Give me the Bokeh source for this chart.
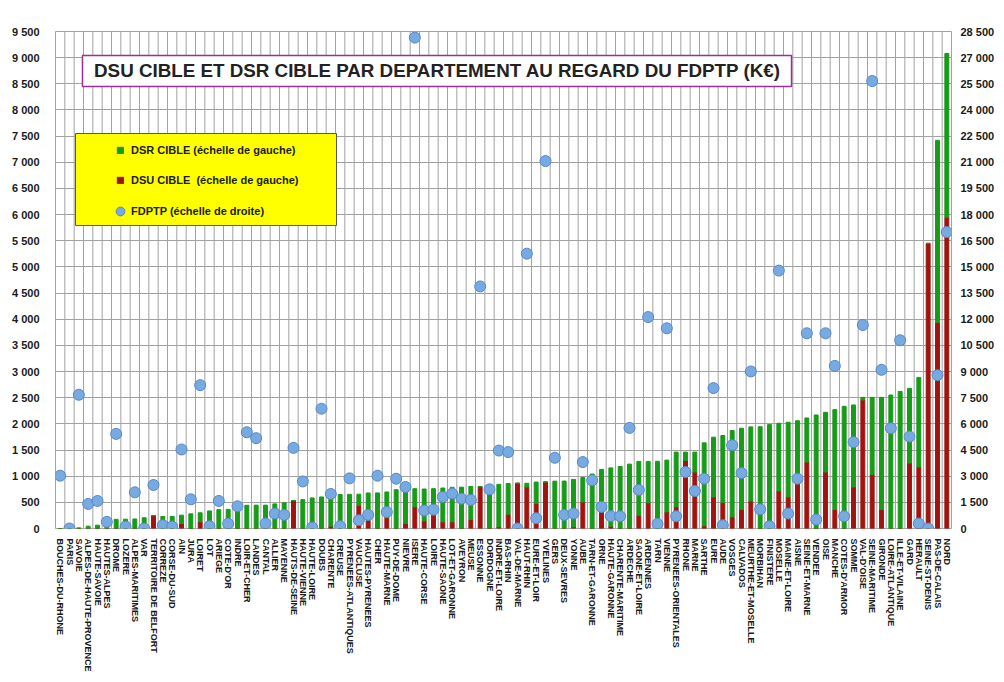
from bokeh.plotting import figure
from bokeh.models import (FactorRange, Range1d, LinearAxis, FixedTicker, Legend, LegendItem,
                          BoxAnnotation, Label, ColumnDataSource)
from bokeh.transform import dodge
from bokeh.embed import file_html
from bokeh.resources import INLINE

departements = [
    "BOUCHES-DU-RHONE", "PARIS", "SAVOIE", "ALPES-DE-HAUTE-PROVENCE", "HAUTE-SAVOIE",
    "HAUTES-ALPES", "DROME", "LOZERE", "ALPES-MARITIMES", "VAR",
    "TERRITOIRE DE BELFORT", "CORREZE", "CORSE-DU-SUD", "AIN", "JURA",
    "LOIRET", "LOT", "ARIEGE", "COTE-D'OR", "INDRE",
    "LOIR-ET-CHER", "LANDES", "CANTAL", "ALLIER", "MAYENNE",
    "HAUTS-DE-SEINE", "HAUTE-VIENNE", "HAUTE-LOIRE", "DOUBS", "CHARENTE",
    "CREUSE", "PYRENEES-ATLANTIQUES", "VAUCLUSE", "HAUTES-PYRENEES", "CHER",
    "HAUTE-MARNE", "PUY-DE-DOME", "NIEVRE", "ISERE", "HAUTE-CORSE",
    "LOIRE", "HAUTE-SAONE", "LOT-ET-GARONNE", "AVEYRON", "MEUSE",
    "ESSONNE", "DORDOGNE", "INDRE-ET-LOIRE", "BAS-RHIN", "VAL-DE-MARNE",
    "HAUT-RHIN", "EURE-ET-LOIR", "YVELINES", "GERS", "DEUX-SEVRES",
    "YONNE", "AUBE", "TARN-ET-GARONNE", "ORNE", "HAUTE-GARONNE",
    "CHARENTE-MARITIME", "ARDECHE", "SAONE-ET-LOIRE", "ARDENNES", "TARN",
    "VIENNE", "PYRENEES-ORIENTALES", "RHONE", "MARNE", "SARTHE",
    "EURE", "AUDE", "VOSGES", "CALVADOS", "MEURTHE-ET-MOSELLE",
    "MORBIHAN", "FINISTERE", "MOSELLE", "MAINE-ET-LOIRE", "AISNE",
    "SEINE-ET-MARNE", "VENDEE", "OISE", "MANCHE", "COTES-D'ARMOR",
    "SOMME", "VAL-D'OISE", "SEINE-MARITIME", "GIRONDE", "LOIRE-ATLANTIQUE",
    "ILLE-ET-VILAINE", "GARD", "HERAULT", "SEINE-ST-DENIS", "PAS-DE-CALAIS",
    "NORD",
]

# DSU CIBLE (K€, left scale)
dsu_cible = [
    0, 0, 0, 0, 0, 0, 0, 0, 0, 0,
    245, 0, 0, 95, 0, 128, 0, 0, 0, 0,
    0, 0, 0, 0, 0, 533, 0, 0, 0, 44,
    0, 0, 444, 158, 0, 203, 0, 95, 413, 145,
    254, 127, 127, 0, 171, 800, 0, 30, 273, 865,
    793, 476, 890, 0, 0, 30, 508, 0, 317, 45,
    0, 0, 254, 489, 0, 317, 413, 1301, 1079, 50,
    603, 495, 222, 368, 527, 0, 0, 717, 603, 890,
    1269, 0, 1079, 362, 0, 793, 2456, 1028, 362, 0,
    0, 1250, 1174, 5450, 3940, 5950,
]

# DSR CIBLE (K€, left scale)
dsr_cible = [
    0, 0, 12, 45, 63, 110, 175, 178, 182, 205,
    5, 230, 232, 160, 280, 172, 336, 360, 365, 365,
    444, 446, 446, 470, 490, 0, 552, 584, 603, 578,
    650, 653, 211, 521, 680, 495, 742, 660, 348, 610,
    507, 647, 660, 790, 634, 0, 825, 814, 587, 0,
    72, 412, 0, 905, 907, 909, 467, 1041, 812, 1113,
    1186, 1231, 1028, 793, 1285, 990, 1047, 159, 381, 1587,
    1142, 1282, 1650, 1549, 1415, 1945, 1986, 1295, 1428, 1170,
    844, 2170, 1142, 1910, 2335, 1568, 51, 1479, 2145, 2551,
    2621, 1428, 1714, 0, 3480, 3130,
]

# FDPTP (K€, right scale)
fdptp = [
    3030, 0, 7670, 1410, 1580, 380, 5425, 114, 2075, 0,
    2495, 190, 114, 4530, 1675, 8220, 130, 1580, 280, 1275,
    5520, 5180, 285, 857, 780, 4625, 2700, 57, 6870, 1980,
    130, 2875, 475, 780, 3030, 950, 2855, 2380, 28150, 1030,
    1085, 1810, 2000, 1713, 1640, 13880, 2245, 4470, 4380, 0,
    15760, 590, 21070, 4055, 780, 857, 3810, 2760, 1240, 710,
    700, 5770, 2210, 12125, 270, 11480, 700, 3240, 2150, 2855,
    8050, 190, 4780, 3180, 9005, 1100, 130, 14790, 857, 2855,
    11195, 514, 11195, 9325, 700, 4950, 11670, 25660, 9100, 5750,
    10795, 5270, 285, 0, 8795, 17000,
]

left_ticks = [0, 500, 1000, 1500, 2000, 2500, 3000, 3500, 4000, 4500,
              5000, 5500, 6000, 6500, 7000, 7500, 8000, 8500, 9000, 9500]
right_ticks = [0, 1500, 3000, 4500, 6000, 7500, 9000, 10500, 12000, 13500,
               15000, 16500, 18000, 19500, 21000, 22500, 24000, 25500, 27000, 28500]

GREEN = "#169C16"
RED = "#A0140F"
BLUE = "#78AAE2"
BLUE_LINE = "#5687C8"
GRID = "#A2A2A2"
TXT = "#1A1A1A"
FONT = "Liberation Sans"


def fmt(v):
    return f"{v:,}".replace(",", " ")


src = ColumnDataSource(dict(dep=departements, dsu=dsu_cible, dsr=dsr_cible, fd=fdptp))

p = figure(
    x_range=FactorRange(factors=departements, range_padding=0),
    y_range=Range1d(0, 9500),
    width=988, height=666,
    frame_width=896, frame_height=497,
    min_border_left=55, min_border_right=37, min_border_top=31, min_border_bottom=138,
    output_backend="svg", toolbar_location=None,
    background_fill_color="white", border_fill_color="white",
)
p.outline_line_color = GRID
p.outline_line_width = 1

p.xgrid.visible = False
p.ygrid.ticker = FixedTicker(ticks=left_ticks)
p.ygrid.grid_line_color = GRID
p.ygrid.grid_line_width = 1

# left axis
la = p.left[0]
la.ticker = FixedTicker(ticks=left_ticks)
la.major_label_overrides = {t: fmt(t) for t in left_ticks}
# right axis
p.extra_y_ranges = {"fd": Range1d(0, 28500)}
ra = LinearAxis(y_range_name="fd", ticker=FixedTicker(ticks=right_ticks),
                major_label_overrides={t: fmt(t) for t in right_ticks})
p.add_layout(ra, "right")

for ax, standoff in ((la, 10), (ra, 3)):
    ax.axis_line_color = None
    ax.major_tick_line_color = None
    ax.minor_tick_line_color = None
    ax.major_label_standoff = standoff
    ax.major_label_text_font = FONT
    ax.major_label_text_font_style = "bold"
    ax.major_label_text_font_size = "11px"
    ax.major_label_text_color = TXT

xa = p.below[0]
xa.axis_line_color = None
xa.major_tick_line_color = None
xa.minor_tick_line_color = None
xa.major_label_orientation = "vertical"
xa.major_label_standoff = 4
xa.major_label_text_font = FONT
xa.major_label_text_font_style = "bold"
xa.major_label_text_font_size = "9px"
xa.major_label_text_color = TXT

# vertical grid lines between categories
p.segment(x0=dodge("dep", -0.5, range=p.x_range), y0=0,
          x1=dodge("dep", -0.5, range=p.x_range), y1=9500,
          source=src, line_color=GRID, line_width=1)

bars = p.vbar_stack(["dsu", "dsr"], x="dep", width=0.42, color=[RED, GREEN], source=src)

pts = p.scatter(x="dep", y="fd", y_range_name="fd", source=src, size=11, marker="circle",
                fill_color=BLUE, line_color=BLUE_LINE, line_width=1)

# title box
p.add_layout(BoxAnnotation(left=2.89, right=78.86, bottom=8449, top=9041,
                           fill_color="white", fill_alpha=1.0,
                           line_color="#9A2E9A", line_alpha=1.0, line_width=1.5))
p.add_layout(Label(x=40.93, y=8745, text="DSU CIBLE ET DSR CIBLE PAR DEPARTEMENT AU REGARD DU FDPTP (K€)",
                   text_align="center", text_baseline="middle", text_font=FONT,
                   text_font_style="bold", text_font_size="18.8px", text_color="#222222"))

# legend box
p.add_layout(BoxAnnotation(left=2.14, right=30.11, bottom=5792, top=7550,
                           fill_color="#FFFF00", fill_alpha=1.0,
                           line_color="#555555", line_alpha=1.0, line_width=1))

common = dict(padding=0, margin=0, label_height=14,
              label_text_font=FONT, label_text_font_style="bold", label_text_font_size="11px",
              label_text_color=TXT, background_fill_alpha=0, border_line_color=None)

legend_bars = Legend(items=[
    LegendItem(label="DSR CIBLE (échelle de gauche)", renderers=[bars[1]]),
    LegendItem(label="DSU CIBLE  (échelle de gauche)", renderers=[bars[0]]),
], location=(61, 341), spacing=16, glyph_width=8, glyph_height=8, label_standoff=7, **common)
legend_pts = Legend(items=[
    LegendItem(label="FDPTP (échelle de droite)", renderers=[pts]),
], location=(54, 306), spacing=0, glyph_width=22, glyph_height=22, label_standoff=0, **common)
p.add_layout(legend_bars)
p.add_layout(legend_pts)

open("out.html", "w").write(file_html(p, INLINE))
